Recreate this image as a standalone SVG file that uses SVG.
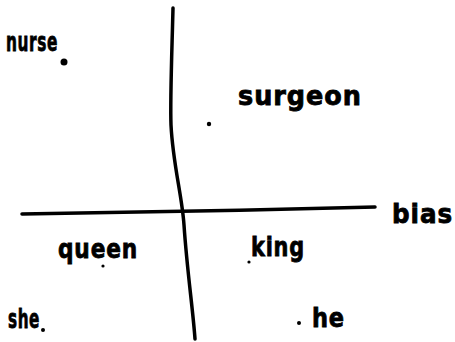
<svg xmlns="http://www.w3.org/2000/svg" width="455" height="342" viewBox="0 0 455 342">
<style>
.ax{fill:none;stroke:#000;stroke-width:3.5;stroke-linecap:round;stroke-linejoin:round}
.lbl{font-family:"DejaVu Sans","Liberation Sans",sans-serif;font-weight:bold;fill:#000;stroke:#000;stroke-width:0.8;font-size:26px;letter-spacing:1px}
.dot{fill:#000}
</style>
<rect width="455" height="342" fill="#fff"/>
<g id="connectors">
<path id="x-axis" class="ax" d="M22,214 C120,213 260,210 375,207"/>
<path id="y-axis" class="ax" d="M173,8 C172,50 170,100 171,125 C173,165 182,195 184,225 C187,270 193,310 195,339"/>
</g>
<g id="nurse"><circle class="dot" cx="64" cy="62" r="3.5"/><text class="lbl" x="6" y="51" textLength="52" lengthAdjust="spacingAndGlyphs">nurse</text></g>
<g id="surgeon"><circle class="dot" cx="209" cy="124" r="2.2"/><text class="lbl" x="238" y="105" textLength="124" lengthAdjust="spacingAndGlyphs">surgeon</text></g>
<g id="bias"><text class="lbl" x="392" y="223" textLength="61" lengthAdjust="spacingAndGlyphs">bias</text></g>
<g id="queen"><circle class="dot" cx="103" cy="266" r="1.6"/><text class="lbl" x="58" y="258" textLength="80" lengthAdjust="spacingAndGlyphs">queen</text></g>
<g id="king"><circle class="dot" cx="249" cy="262" r="1.6"/><text class="lbl" x="251" y="256" textLength="54" lengthAdjust="spacingAndGlyphs">king</text></g>
<g id="she"><circle class="dot" cx="43" cy="330" r="2"/><text class="lbl" x="8" y="328" font-size="22" textLength="32" lengthAdjust="spacingAndGlyphs">she</text></g>
<g id="he"><circle class="dot" cx="299" cy="323" r="2"/><text class="lbl" x="312" y="327" textLength="33" lengthAdjust="spacingAndGlyphs">he</text></g>
</svg>
